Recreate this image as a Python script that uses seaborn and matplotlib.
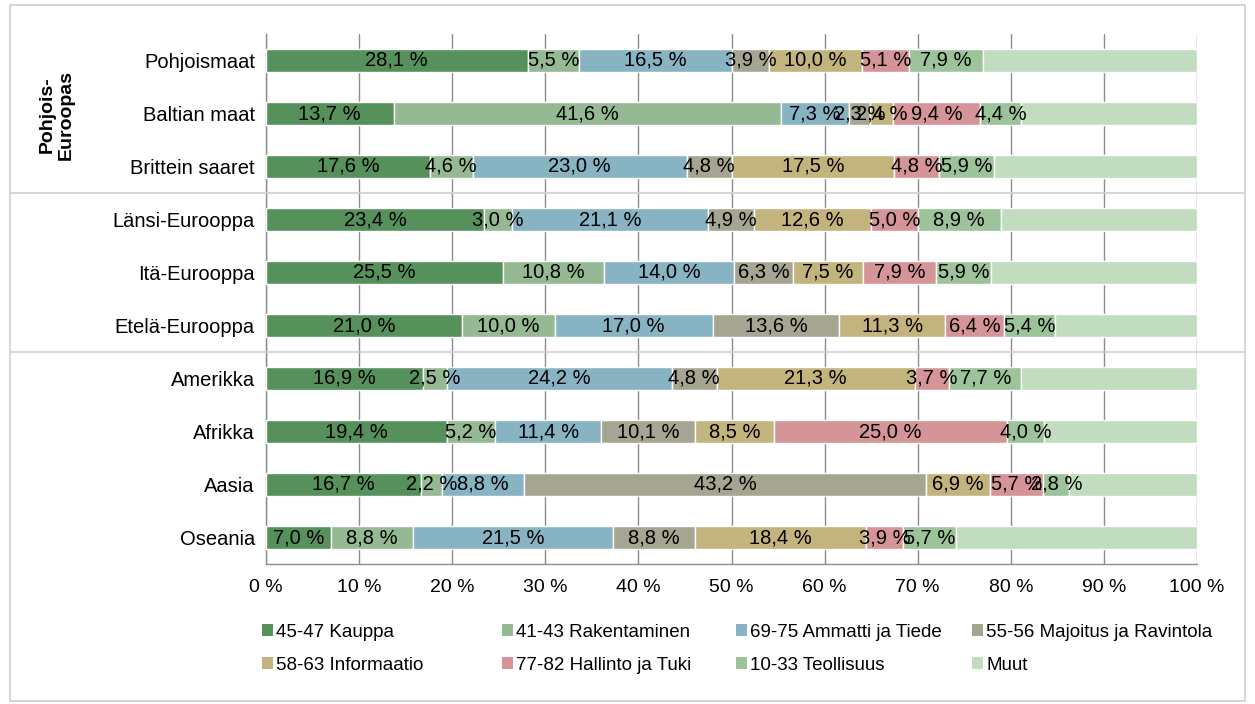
import numpy as np
import matplotlib
matplotlib.use("Agg")
import matplotlib.pyplot as plt
import matplotlib.transforms as mtransforms
from matplotlib.patches import Patch, Rectangle
from matplotlib.lines import Line2D
import seaborn as sns

regions = ["Pohjoismaat", "Baltian maat", "Brittein saaret", "Länsi-Eurooppa",
           "Itä-Eurooppa", "Etelä-Eurooppa", "Amerikka", "Afrikka", "Aasia", "Oseania"]

sectors = ["45-47 Kauppa", "41-43 Rakentaminen", "69-75 Ammatti ja Tiede",
           "55-56 Majoitus ja Ravintola", "58-63 Informaatio", "77-82 Hallinto ja Tuki",
           "10-33 Teollisuus", "Muut"]

kauppa = [28.1, 13.7, 17.6, 23.4, 25.5, 21.0, 16.9, 19.4, 16.7, 7.0]
rakentaminen = [5.5, 41.6, 4.6, 3.0, 10.8, 10.0, 2.5, 5.2, 2.2, 8.8]
ammatti = [16.5, 7.3, 23.0, 21.1, 14.0, 17.0, 24.2, 11.4, 8.8, 21.5]
majoitus = [3.9, 2.3, 4.8, 4.9, 6.3, 13.6, 4.8, 10.1, 43.2, 8.8]
informaatio = [10.0, 2.4, 17.5, 12.6, 7.5, 11.3, 21.3, 8.5, 6.9, 18.4]
hallinto = [5.1, 9.4, 4.8, 5.0, 7.9, 6.4, 3.7, 25.0, 5.7, 3.9]
teollisuus = [7.9, 4.4, 5.9, 8.9, 5.9, 5.4, 7.7, 4.0, 2.8, 5.7]
muut = [23.0, 18.9, 21.8, 21.1, 22.1, 15.3, 18.9, 16.4, 13.7, 25.9]

colors = ["#56905A", "#95B993", "#88B3C2", "#A6A592", "#C3B37C", "#D59497", "#9CC39A", "#C2DCC0"]

sns.set_style("white")
plt.rcParams["font.family"] = ["Liberation Sans", "DejaVu Sans"]
plt.rcParams["text.color"] = "black"
plt.rcParams["xtick.labelcolor"] = "black"
plt.rcParams["ytick.labelcolor"] = "black"

series = [kauppa, rakentaminen, ammatti, majoitus, informaatio, hallinto, teollisuus, muut]

fig = plt.figure(figsize=(12.55, 7.04), dpi=100)
ax = fig.add_axes([266 / 1255, 1 - 564 / 704, (1197 - 266) / 1255, (564 - 34) / 704])

y = np.arange(len(regions))
left = np.zeros(len(regions))
for name, vals, col in zip(sectors, series, colors):
    vals = np.array(vals)
    bars = ax.barh(y, vals, left=left, height=0.42, color=col, label=name, zorder=3)
    if name != "Muut":
        labels = [f"{v:.1f} %".replace(".", ",") for v in vals]
        ax.bar_label(bars, labels=labels, label_type="center", fontsize=14.5, color="black", zorder=4)
    left += vals

ax.set_xlim(0, 100)
ax.set_ylim(len(regions) - 0.5, -0.5)
ax.set_xticks(np.arange(0, 101, 10))
ax.set_xticklabels([f"{t} %" for t in range(0, 101, 10)], fontsize=14)
ax.set_yticks(y)
ax.set_yticklabels(regions, fontsize=14.5)
ax.set_yticks(np.arange(-0.5, len(regions), 1), minor=True)
ax.tick_params(axis="y", which="major", length=0, pad=8)
ax.tick_params(axis="y", which="minor", length=5, color="#888888", direction="out", width=1)
ax.tick_params(axis="x", length=5, color="#888888", direction="out", width=1, pad=6)
ax.grid(axis="x", color="#8C8C8C", lw=1, zorder=0)
ax.set_axisbelow(True)
for s in ["top", "right"]:
    ax.spines[s].set_visible(False)
for s in ["left", "bottom"]:
    ax.spines[s].set_color("#8C8C8C")
    ax.spines[s].set_linewidth(1)

# group separators across the whole chart
trans = mtransforms.blended_transform_factory(fig.transFigure, ax.transData)
for yb in [2.5, 5.5]:
    fig.add_artist(Line2D([10 / 1255, 1245 / 1255], [yb, yb], transform=trans,
                          color="#D0D0D0", lw=1.2, clip_on=False))

fig.text(57 / 1255, 1 - 115 / 704, "Pohjois-\nEuroopas", rotation=90, ha="center", va="center",
         multialignment="center", fontsize=14, fontweight="bold", linespacing=1.15)

# chart border
fig.add_artist(Rectangle((10 / 1255, 3 / 704), 1235 / 1255, 696 / 704, transform=fig.transFigure,
                         fill=False, edgecolor="#D0D0D0", lw=1.2))

# legend: 4 columns of 2 entries
col_x = [262, 502, 736, 972]
for c in range(4):
    idx = [c, c + 4]
    handles = [Patch(facecolor=colors[k], edgecolor="none") for k in idx]
    fig.legend(handles, [sectors[k] for k in idx], loc="upper left",
               bbox_to_anchor=(col_x[c] / 1255, 1 - 624 / 704), frameon=False,
               fontsize=13.5, handlelength=0.6, handleheight=0.6, handletextpad=0.15,
               labelspacing=0.85, borderpad=0, borderaxespad=0)

fig.savefig("out.png", dpi=100)
